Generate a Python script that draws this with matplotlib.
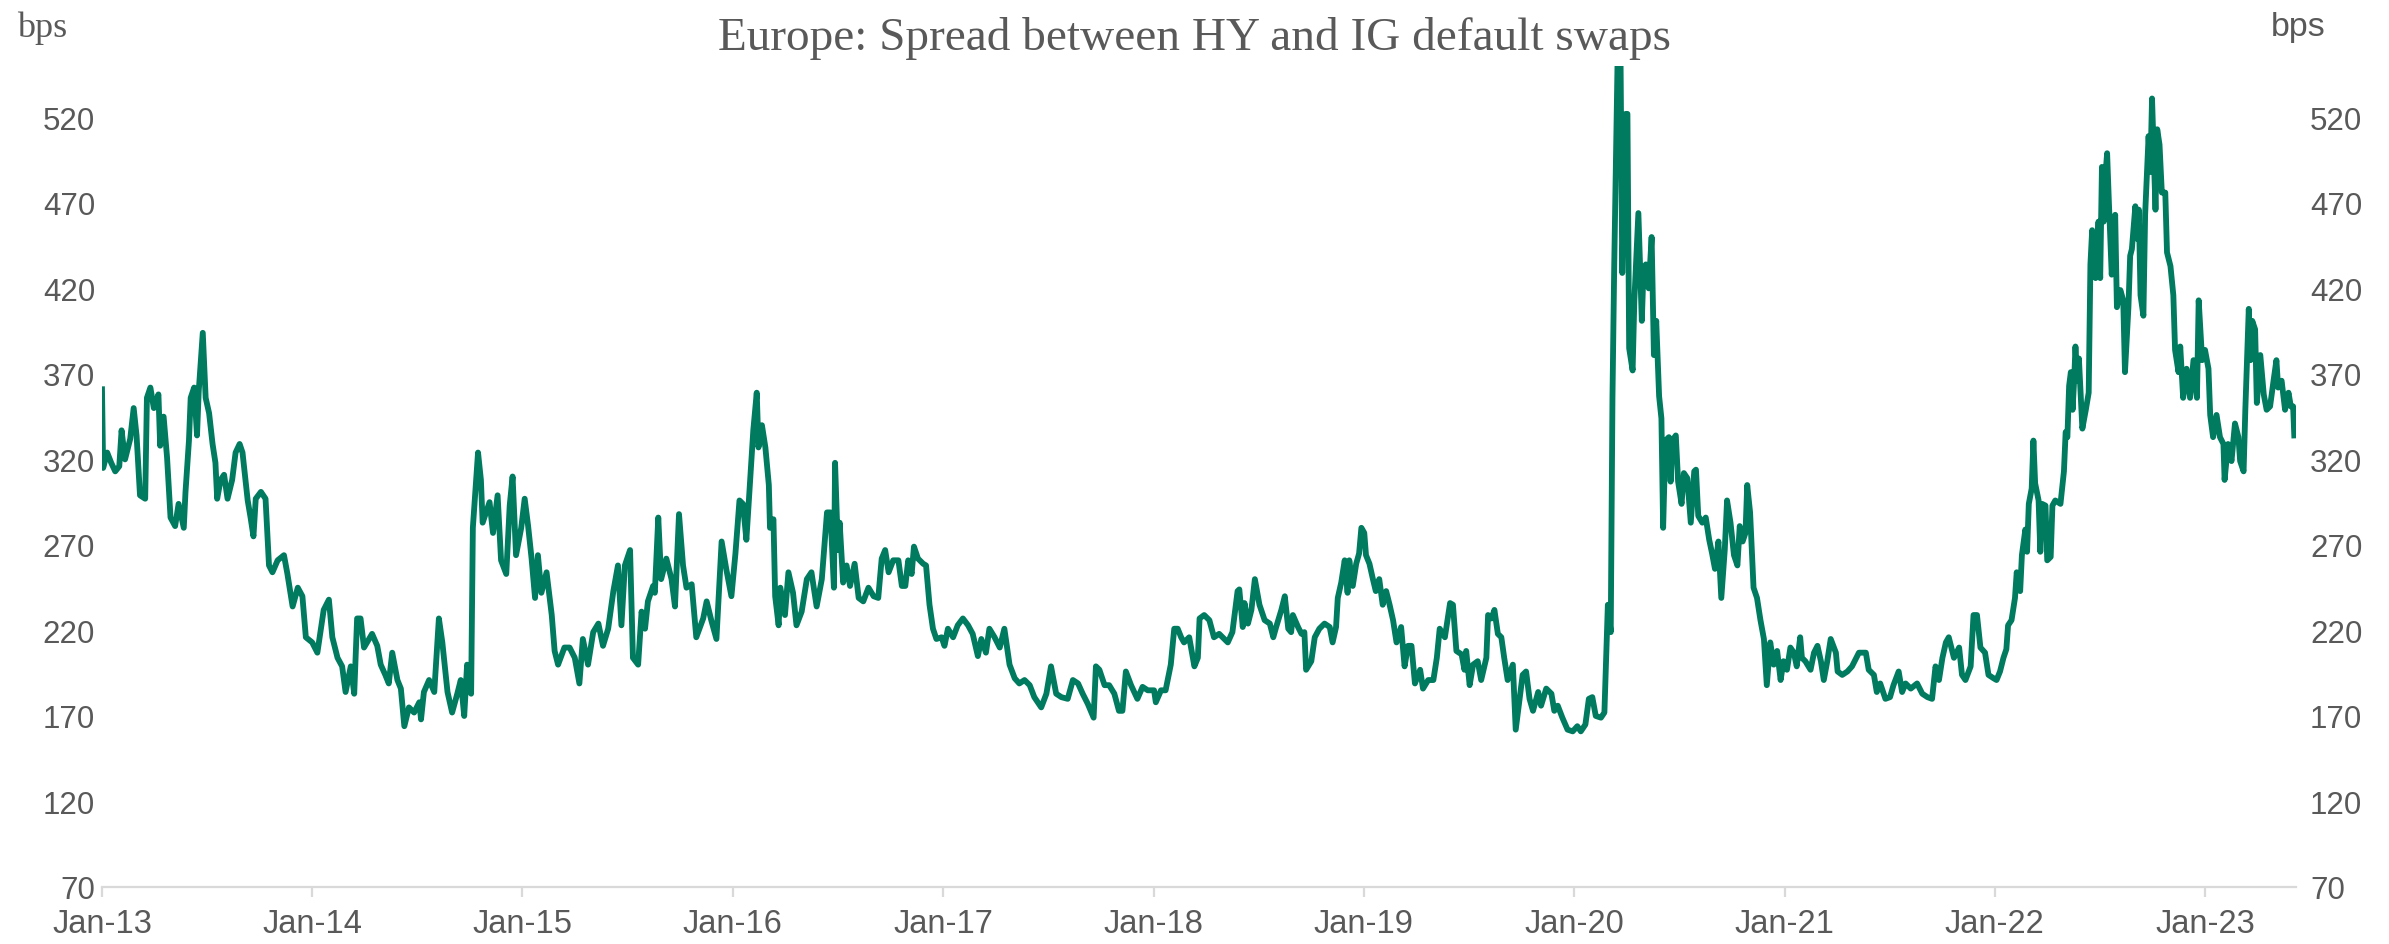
import pandas as pd
import matplotlib
matplotlib.use("Agg")
import matplotlib.pyplot as plt
import matplotlib.dates as mdates

# Europe: HY minus IG CDS index spread, bps
dates = [
    "2013-01-01", "2013-01-03", "2013-01-10", "2013-01-17", "2013-01-24", "2013-01-31", "2013-02-04", "2013-02-10",
    "2013-02-19", "2013-02-25", "2013-03-02", "2013-03-08", "2013-03-17", "2013-03-20", "2013-03-26", "2013-04-01",
    "2013-04-09", "2013-04-12", "2013-04-18", "2013-04-24", "2013-04-30", "2013-05-08", "2013-05-14", "2013-05-23",
    "2013-05-26", "2013-06-01", "2013-06-04", "2013-06-10", "2013-06-15", "2013-06-18", "2013-06-25", "2013-06-30",
    "2013-07-06", "2013-07-12", "2013-07-17", "2013-07-20", "2013-07-26", "2013-08-01", "2013-08-07", "2013-08-15",
    "2013-08-21", "2013-08-28", "2013-09-02", "2013-09-11", "2013-09-16", "2013-09-21", "2013-09-25", "2013-10-04",
    "2013-10-12", "2013-10-18", "2013-10-24", "2013-11-02", "2013-11-13", "2013-11-19", "2013-11-28", "2013-12-07",
    "2013-12-15", "2013-12-21", "2014-01-01", "2014-01-10", "2014-01-21", "2014-01-30", "2014-02-05", "2014-02-14",
    "2014-02-22", "2014-02-28", "2014-03-09", "2014-03-15", "2014-03-20", "2014-03-26", "2014-04-01", "2014-04-15",
    "2014-04-24", "2014-04-30", "2014-05-08", "2014-05-14", "2014-05-20", "2014-05-29", "2014-06-04", "2014-06-10",
    "2014-06-18", "2014-06-27", "2014-07-06", "2014-07-09", "2014-07-14", "2014-07-23", "2014-08-01", "2014-08-09",
    "2014-08-15", "2014-08-24", "2014-09-01", "2014-09-10", "2014-09-16", "2014-09-22", "2014-09-27", "2014-10-04",
    "2014-10-07", "2014-10-16", "2014-10-21", "2014-10-24", "2014-11-05", "2014-11-11", "2014-11-19", "2014-11-25",
    "2014-12-04", "2014-12-10", "2014-12-15", "2014-12-21", "2014-12-30", "2015-01-05", "2015-01-11", "2015-01-17",
    "2015-01-23", "2015-01-28", "2015-02-03", "2015-02-12", "2015-02-21", "2015-02-26", "2015-03-04", "2015-03-15",
    "2015-03-24", "2015-04-02", "2015-04-10", "2015-04-16", "2015-04-25", "2015-05-04", "2015-05-13", "2015-05-21",
    "2015-05-30", "2015-06-08", "2015-06-16", "2015-06-22", "2015-06-28", "2015-07-07", "2015-07-12", "2015-07-21",
    "2015-07-27", "2015-08-02", "2015-08-07", "2015-08-16", "2015-08-19", "2015-08-25", "2015-08-30", "2015-09-08",
    "2015-09-17", "2015-09-23", "2015-09-30", "2015-10-07", "2015-10-13", "2015-10-22", "2015-10-30", "2015-11-11",
    "2015-11-17", "2015-11-25", "2015-12-04", "2015-12-13", "2015-12-21", "2015-12-30", "2016-01-06", "2016-01-13",
    "2016-01-19", "2016-01-25", "2016-02-06", "2016-02-12", "2016-02-15", "2016-02-21", "2016-02-27", "2016-03-04",
    "2016-03-06", "2016-03-12", "2016-03-15", "2016-03-21", "2016-03-24", "2016-04-01", "2016-04-07", "2016-04-15",
    "2016-04-21", "2016-04-30", "2016-05-09", "2016-05-17", "2016-05-26", "2016-06-04", "2016-06-13", "2016-06-19",
    "2016-06-25", "2016-06-27", "2016-07-02", "2016-07-05", "2016-07-11", "2016-07-17", "2016-07-23", "2016-07-31",
    "2016-08-07", "2016-08-15", "2016-08-24", "2016-09-02", "2016-09-10", "2016-09-16", "2016-09-22", "2016-09-28",
    "2016-10-06", "2016-10-15", "2016-10-21", "2016-10-27", "2016-11-01", "2016-11-07", "2016-11-11", "2016-11-18",
    "2016-11-27", "2016-12-02", "2016-12-08", "2016-12-14", "2016-12-20", "2016-12-29", "2017-01-03", "2017-01-09",
    "2017-01-18", "2017-01-26", "2017-02-04", "2017-02-13", "2017-02-21", "2017-03-02", "2017-03-08", "2017-03-16",
    "2017-03-22", "2017-03-31", "2017-04-09", "2017-04-17", "2017-04-26", "2017-05-05", "2017-05-13", "2017-05-22",
    "2017-05-31", "2017-06-08", "2017-06-20", "2017-06-29", "2017-07-07", "2017-07-16", "2017-07-25", "2017-08-05",
    "2017-08-14", "2017-08-23", "2017-08-31", "2017-09-09", "2017-09-19", "2017-09-23", "2017-09-29", "2017-10-08",
    "2017-10-16", "2017-10-25", "2017-11-02", "2017-11-08", "2017-11-14", "2017-11-23", "2017-12-04", "2017-12-13",
    "2017-12-22", "2018-01-02", "2018-01-05", "2018-01-14", "2018-01-22", "2018-01-31", "2018-02-06", "2018-02-12",
    "2018-02-18", "2018-02-23", "2018-03-04", "2018-03-13", "2018-03-19", "2018-03-22", "2018-03-30", "2018-04-08",
    "2018-04-16", "2018-04-25", "2018-05-10", "2018-05-18", "2018-05-27", "2018-05-30", "2018-06-05", "2018-06-08",
    "2018-06-14", "2018-06-20", "2018-06-26", "2018-07-04", "2018-07-13", "2018-07-22", "2018-07-28", "2018-08-02",
    "2018-08-11", "2018-08-17", "2018-08-23", "2018-08-28", "2018-08-31", "2018-09-09", "2018-09-15", "2018-09-20",
    "2018-09-23", "2018-10-02", "2018-10-08", "2018-10-16", "2018-10-25", "2018-11-03", "2018-11-08", "2018-11-14",
    "2018-11-17", "2018-11-23", "2018-11-29", "2018-12-04", "2018-12-07", "2018-12-13", "2018-12-19", "2018-12-24",
    "2018-12-28", "2019-01-02", "2019-01-05", "2019-01-11", "2019-01-17", "2019-01-22", "2019-01-28", "2019-02-03",
    "2019-02-09", "2019-02-15", "2019-02-21", "2019-02-27", "2019-03-07", "2019-03-13", "2019-03-19", "2019-03-25",
    "2019-03-31", "2019-04-09", "2019-04-14", "2019-04-23", "2019-05-02", "2019-05-08", "2019-05-13", "2019-05-22",
    "2019-05-31", "2019-06-05", "2019-06-11", "2019-06-20", "2019-06-25", "2019-06-28", "2019-07-04", "2019-07-10",
    "2019-07-18", "2019-07-24", "2019-08-02", "2019-08-05", "2019-08-11", "2019-08-16", "2019-08-22", "2019-08-28",
    "2019-09-02", "2019-09-08", "2019-09-17", "2019-09-22", "2019-09-28", "2019-10-04", "2019-10-10", "2019-10-16",
    "2019-10-22", "2019-10-31", "2019-11-05", "2019-11-14", "2019-11-23", "2019-11-28", "2019-12-04", "2019-12-12",
    "2019-12-21", "2019-12-30", "2020-01-07", "2020-01-13", "2020-01-21", "2020-01-27", "2020-02-02", "2020-02-08",
    "2020-02-17", "2020-02-23", "2020-02-29", "2020-03-05", "2020-03-08", "2020-03-11", "2020-03-14", "2020-03-17",
    "2020-03-22", "2020-03-25", "2020-03-31", "2020-04-03", "2020-04-06", "2020-04-12", "2020-04-15", "2020-04-22",
    "2020-04-28", "2020-05-01", "2020-05-05", "2020-05-10", "2020-05-15", "2020-05-19", "2020-05-23", "2020-05-28",
    "2020-06-01", "2020-06-04", "2020-06-08", "2020-06-14", "2020-06-17", "2020-06-20", "2020-06-26", "2020-06-30",
    "2020-07-06", "2020-07-10", "2020-07-16", "2020-07-22", "2020-07-28", "2020-07-31", "2020-08-04", "2020-08-11",
    "2020-08-17", "2020-08-23", "2020-08-28", "2020-09-02", "2020-09-08", "2020-09-13", "2020-09-19", "2020-09-23",
    "2020-09-29", "2020-10-05", "2020-10-11", "2020-10-15", "2020-10-20", "2020-10-25", "2020-10-28", "2020-11-02",
    "2020-11-08", "2020-11-14", "2020-11-20", "2020-11-26", "2020-12-01", "2020-12-07", "2020-12-13", "2020-12-19",
    "2020-12-25", "2020-12-30", "2021-01-05", "2021-01-11", "2021-01-17", "2021-01-22", "2021-01-28", "2021-01-31",
    "2021-02-06", "2021-02-15", "2021-02-21", "2021-02-27", "2021-03-05", "2021-03-10", "2021-03-16", "2021-03-22",
    "2021-03-31", "2021-04-03", "2021-04-11", "2021-04-20", "2021-04-28", "2021-05-10", "2021-05-22", "2021-05-27",
    "2021-06-05", "2021-06-10", "2021-06-16", "2021-06-25", "2021-07-03", "2021-07-09", "2021-07-18", "2021-07-24",
    "2021-07-30", "2021-08-08", "2021-08-19", "2021-08-28", "2021-09-06", "2021-09-14", "2021-09-20", "2021-09-26",
    "2021-10-02", "2021-10-08", "2021-10-13", "2021-10-22", "2021-10-31", "2021-11-05", "2021-11-11", "2021-11-20",
    "2021-11-25", "2021-12-01", "2021-12-07", "2021-12-15", "2021-12-21", "2021-12-30", "2022-01-04", "2022-01-10",
    "2022-01-16", "2022-01-21", "2022-01-24", "2022-01-30", "2022-02-05", "2022-02-08", "2022-02-14", "2022-02-17",
    "2022-02-23", "2022-02-26", "2022-03-01", "2022-03-06", "2022-03-09", "2022-03-12", "2022-03-18", "2022-03-21",
    "2022-03-24", "2022-03-30", "2022-04-02", "2022-04-08", "2022-04-11", "2022-04-16", "2022-04-25", "2022-05-01",
    "2022-05-04", "2022-05-07", "2022-05-10", "2022-05-13", "2022-05-16", "2022-05-19", "2022-05-21", "2022-05-24",
    "2022-05-27", "2022-06-02", "2022-06-08", "2022-06-13", "2022-06-16", "2022-06-19", "2022-06-25", "2022-06-30",
    "2022-07-03", "2022-07-06", "2022-07-09", "2022-07-12", "2022-07-15", "2022-07-18", "2022-07-23", "2022-07-29",
    "2022-08-01", "2022-08-07", "2022-08-12", "2022-08-15", "2022-08-21", "2022-08-24", "2022-08-27", "2022-09-02",
    "2022-09-05", "2022-09-08", "2022-09-11", "2022-09-16", "2022-09-19", "2022-09-25", "2022-09-28", "2022-10-01",
    "2022-10-04", "2022-10-07", "2022-10-10", "2022-10-14", "2022-10-18", "2022-10-24", "2022-10-27", "2022-11-02",
    "2022-11-07", "2022-11-10", "2022-11-16", "2022-11-19", "2022-11-24", "2022-11-30", "2022-12-06", "2022-12-12",
    "2022-12-18", "2022-12-21", "2022-12-27", "2023-01-01", "2023-01-07", "2023-01-10", "2023-01-15", "2023-01-21",
    "2023-01-27", "2023-02-02", "2023-02-04", "2023-02-10", "2023-02-16", "2023-02-22", "2023-02-28", "2023-03-03",
    "2023-03-09", "2023-03-12", "2023-03-18", "2023-03-21", "2023-03-24", "2023-03-29", "2023-04-01", "2023-04-07",
    "2023-04-13", "2023-04-18", "2023-04-24", "2023-04-30", "2023-05-05", "2023-05-08", "2023-05-14", "2023-05-20",
    "2023-05-26", "2023-05-30", "2023-06-03", "2023-06-05",
]
spread = [
    361, 315, 324, 318, 313, 316, 337, 320, 332, 350, 334, 299, 297, 356, 362, 350,
    358, 328, 345, 321, 286, 281, 294, 280, 301, 331, 356, 362, 334, 360, 394, 356,
    347, 329, 318, 297, 308, 311, 297, 308, 324, 329, 324, 296, 286, 275, 297, 301,
    297, 258, 254, 261, 264, 253, 234, 245, 240, 216, 213, 207, 232, 238, 216, 204,
    199, 184, 199, 183, 227, 227, 210, 218, 211, 200, 194, 189, 207, 191, 186, 164,
    175, 172, 178, 168, 184, 191, 184, 227, 213, 184, 172, 183, 191, 170, 200, 183,
    280, 324, 308, 283, 295, 277, 299, 261, 253, 293, 310, 264, 280, 297, 281, 262,
    239, 264, 242, 254, 229, 208, 200, 210, 210, 204, 189, 215, 200, 219, 224, 211,
    221, 243, 258, 223, 258, 267, 204, 200, 231, 221, 237, 246, 242, 286, 250, 262,
    250, 234, 288, 258, 245, 247, 216, 227, 237, 226, 215, 272, 256, 240, 265, 296,
    294, 273, 337, 359, 327, 340, 327, 305, 280, 285, 240, 223, 245, 229, 254, 242,
    223, 231, 250, 254, 234, 250, 289, 289, 245, 318, 267, 283, 248, 258, 246, 259,
    239, 237, 245, 240, 239, 262, 267, 254, 261, 261, 246, 246, 261, 253, 269, 262,
    259, 258, 235, 221, 215, 216, 211, 221, 216, 223, 227, 223, 218, 205, 215, 207,
    221, 216, 210, 221, 200, 192, 189, 191, 188, 181, 175, 183, 199, 183, 181, 180,
    191, 189, 183, 177, 169, 199, 197, 188, 188, 183, 173, 173, 196, 188, 180, 187,
    185, 185, 178, 185, 185, 200, 221, 221, 216, 213, 216, 199, 204, 227, 229, 226,
    216, 218, 213, 219, 243, 244, 222, 236, 224, 232, 250, 235, 226, 224, 216, 222,
    232, 240, 221, 219, 229, 222, 218, 219, 197, 202, 216, 221, 224, 222, 213, 222,
    239, 248, 261, 242, 261, 246, 259, 265, 280, 277, 264, 259, 250, 243, 250, 235,
    243, 235, 226, 213, 222, 199, 211, 211, 189, 197, 186, 191, 191, 204, 221, 216,
    236, 235, 208, 206, 197, 208, 188, 200, 202, 191, 204, 229, 227, 232, 218, 216,
    204, 191, 200, 162, 178, 194, 196, 180, 173, 184, 176, 186, 183, 173, 176, 169,
    162, 161, 164, 161, 165, 180, 181, 170, 169, 172, 235, 219, 356, 432, 496, 556,
    556, 429, 522, 522, 385, 372, 413, 464, 401, 432, 434, 420, 450, 381, 401, 357,
    344, 280, 331, 333, 307, 331, 334, 307, 294, 312, 309, 283, 313, 314, 287, 283,
    286, 273, 265, 256, 272, 239, 267, 296, 283, 264, 258, 281, 272, 277, 305, 289,
    245, 239, 226, 215, 188, 213, 200, 208, 191, 202, 197, 210, 207, 199, 216, 204,
    202, 197, 207, 211, 202, 191, 202, 215, 207, 196, 194, 196, 199, 207, 207, 197,
    194, 184, 189, 180, 181, 188, 196, 184, 189, 186, 189, 183, 181, 180, 199, 191,
    204, 213, 216, 204, 210, 194, 191, 199, 229, 229, 210, 207, 194, 192, 191, 196,
    204, 209, 223, 226, 239, 254, 243, 264, 279, 266, 294, 303, 331, 306, 296, 266,
    294, 293, 261, 263, 293, 296, 294, 313, 336, 333, 363, 371, 349, 368, 386, 366,
    379, 338, 349, 359, 434, 454, 426, 459, 426, 491, 459, 486, 499, 471, 428, 463,
    409, 419, 413, 371, 409, 439, 443, 468, 449, 466, 416, 404, 463, 509, 488, 531,
    499, 466, 513, 504, 476, 476, 441, 433, 416, 384, 371, 386, 356, 373, 356, 378,
    356, 413, 378, 384, 373, 346, 333, 346, 333, 329, 308, 329, 319, 341, 333, 319,
    313, 349, 408, 378, 401, 396, 353, 381, 358, 349, 351, 366, 378, 362, 366, 349,
    359, 351, 351, 334,
]

y_ticks = [70, 120, 170, 220, 270, 320, 370, 420, 470, 520]
year_ticks = ["%d-01-01" % y for y in range(2013, 2024)]

line_col = "#007B5F"
text_col = "#595959"
axis_col = "#D9D9D9"

x = pd.to_datetime(dates)

fig = plt.figure(figsize=(23.89, 9.45), dpi=100)
ax = fig.add_axes([102 / 2389, 1 - 888 / 945, (2296 - 102) / 2389, (888 - 67) / 945])

ax.plot(x, spread, color=line_col, linewidth=4.2, solid_joinstyle="round")

ax.set_xlim(pd.Timestamp("2013-01-01"), pd.Timestamp("2023-06-08"))
ax.set_ylim(70, 550)
ax.set_yticks(y_ticks)
ax.set_xticks(pd.to_datetime(year_ticks))
ax.xaxis.set_major_formatter(mdates.DateFormatter("%b-%y"))

for s in ["top", "left", "right"]:
    ax.spines[s].set_visible(False)
ax.spines["bottom"].set_color(axis_col)
ax.spines["bottom"].set_linewidth(1.6)

ax.tick_params(axis="x", length=7.2, width=1.6, color=axis_col, pad=8,
               labelsize=23.5, labelcolor=text_col)
ax.tick_params(axis="y", length=0, pad=5, labelsize=22.5, labelcolor=text_col)
for lab in ax.get_xticklabels() + ax.get_yticklabels():
    lab.set_family("Liberation Sans")

# mirrored value axis on the right
ax2 = ax.twinx()
ax2.set_ylim(ax.get_ylim())
ax2.set_yticks(y_ticks)
for s in ["top", "left", "right", "bottom"]:
    ax2.spines[s].set_visible(False)
ax2.tick_params(axis="y", length=0, pad=10, labelsize=22.5, labelcolor=text_col)
for lab in ax2.get_yticklabels():
    lab.set_family("Liberation Sans")

fig.text(0.5, 1 - 50 / 945, "Europe: Spread between HY and IG default swaps",
         ha="center", va="baseline", fontsize=34, color=text_col, family="Liberation Serif")
fig.text(17 / 2389, 1 - 37 / 945, "bps", ha="left", va="baseline",
         fontsize=26, color=text_col, family="Liberation Serif")
fig.text(2271 / 2389, 1 - 36 / 945, "bps", ha="left", va="baseline",
         fontsize=24.5, color=text_col, family="Liberation Sans")

plt.savefig("out.png", dpi=100)
plt.close()
